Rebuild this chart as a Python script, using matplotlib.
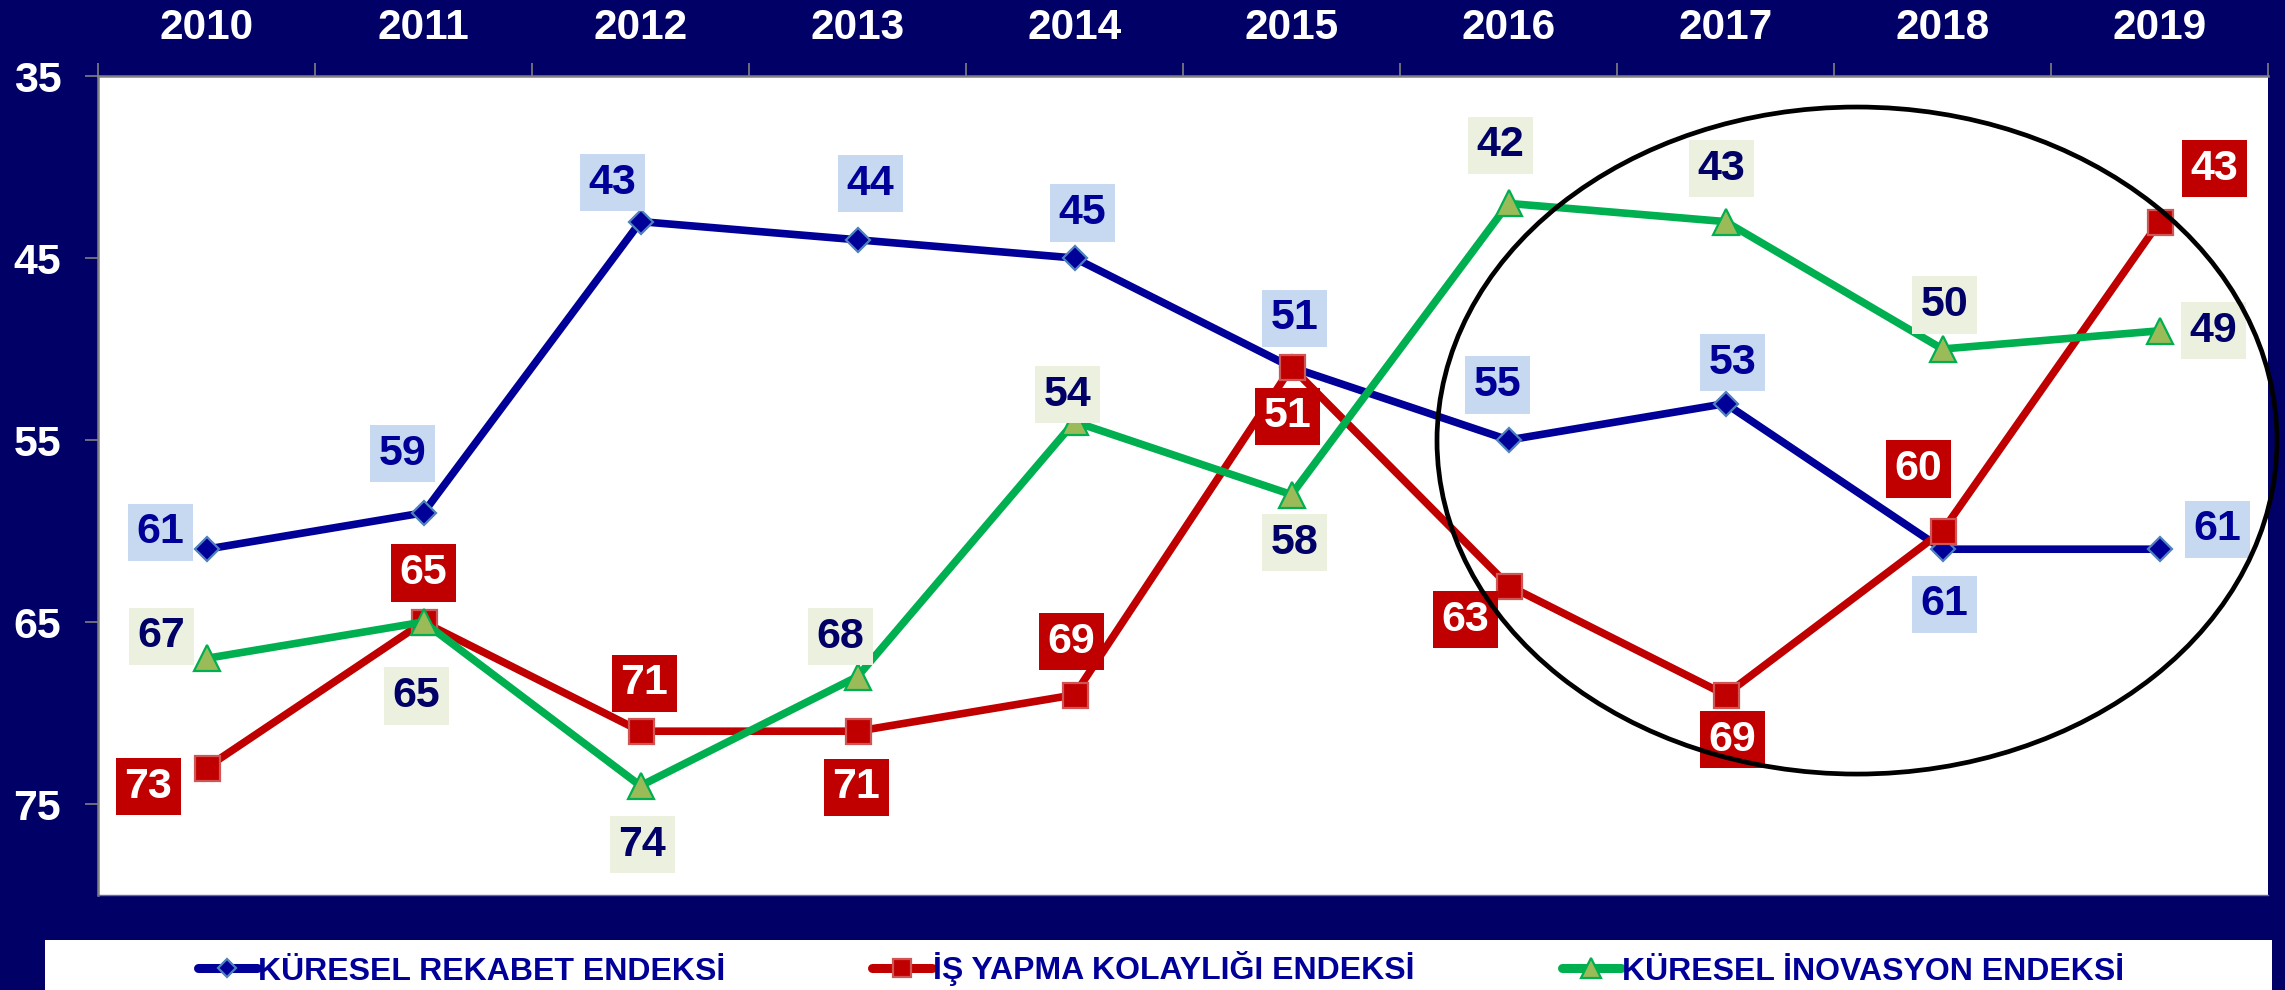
import numpy as np
import matplotlib
matplotlib.use("Agg")
import matplotlib.pyplot as plt
from matplotlib.patches import Ellipse, Rectangle
from matplotlib import font_manager

# ---------------- data ----------------
years = ["2010", "2011", "2012", "2013", "2014", "2015", "2016", "2017", "2018", "2019"]
rekabet = [61, 59, 43, 44, 45, 51, 55, 53, 61, 61]
is_yapma = [73, 65, 71, 71, 69, 51, 63, 69, 60, 43]
inovasyon = [67, 65, 74, 68, 54, 58, 42, 43, 50, 49]
series_names = ["KÜRESEL REKABET ENDEKSİ", "İŞ YAPMA KOLAYLIĞI ENDEKSİ", "KÜRESEL İNOVASYON ENDEKSİ"]
y_ticks = [35, 45, 55, 65, 75]

# label offsets (pixels, box centre relative to point)
off_rekabet = [(-46, 17), (-21, 59), (-28, 39), (13, 56), (8, 45), (3, 49), (-11, 55), (7, 41), (2, -55), (58, 20)]
off_is = [(-58, -19), (0, 49), (4, 48), (-1, -56), (-3, 53), (-4, -49), (-43, -34), (7, -45), (-24, 62), (55, 53)]
off_inov = [(-45, 22), (-7, -74), (2, -59), (-17, 40), (-7, 27), (3, -48), (-8, 58), (-4, 53), (2, 44), (54, 0)]

NAVY = "#000066"
BLUE = "#000099"
RED = "#C00000"
GREEN = "#00B050"

names = {f.name for f in font_manager.fontManager.ttflist}
FONT = "Liberation Sans" if "Liberation Sans" in names else "DejaVu Sans"

fig = plt.figure(figsize=(22.85, 9.90), dpi=100, facecolor=NAVY)
W, H = 2285.0, 990.0
ax = fig.add_axes([98 / W, 1 - 895 / H, (2268 - 98) / W, (895 - 76) / H])
ax.set_facecolor("white")

x = np.arange(len(years))

ax.plot(x, rekabet, color=BLUE, lw=5.5, marker="D", ms=12.5, mfc=BLUE, mec="#4F81BD", mew=1.6,
        zorder=3, label=series_names[0])
ax.plot(x, is_yapma, color=RED, lw=5.5, marker="s", ms=18, mfc=RED, mec="#D05555", mew=1.6,
        zorder=4, label=series_names[1])
ax.plot(x, inovasyon, color=GREEN, lw=5.5, marker="^", ms=19, mfc="#9BBB59", mec=GREEN, mew=1.6,
        zorder=5, label=series_names[2])

def labels(vals, offs, fc, tc):
    for i, (v, o) in enumerate(zip(vals, offs)):
        ax.annotate(str(v), xy=(i, v), xytext=o, textcoords="offset pixels",
                    ha="center", va="center", fontsize=31, fontweight="bold",
                    family=FONT, color=tc, zorder=10, annotation_clip=False,
                    bbox=dict(boxstyle="square,pad=0.2", fc=fc, ec="none"))

labels(rekabet, off_rekabet, "#C6D9F1", BLUE)
labels(is_yapma, off_is, RED, "white")
labels(inovasyon, off_inov, "#EBF1DE", NAVY)

ax.add_patch(Ellipse((7.606, 55.03), 3.871, 36.65, fill=False, ec="black", lw=3.4,
                     clip_on=False, zorder=20))

ax.set_xlim(-0.5, 9.5)
ax.set_ylim(80, 35)

ax.xaxis.tick_top()
ax.set_xticks(np.arange(-0.5, 10, 1))
ax.set_xticklabels([])
ax.set_xticks(x, minor=True)
ax.set_xticklabels(years, minor=True)
ax.tick_params(axis="x", which="major", length=9.4, width=1.2, color="#808080", direction="out")
ax.tick_params(axis="x", which="minor", length=0, pad=20, labelsize=30.5, labelcolor="white")
for t in ax.get_xticklabels(minor=True):
    t.set_fontweight("bold")
    t.set_family(FONT)

ax.set_yticks(y_ticks)
ax.set_yticklabels([str(v) for v in y_ticks])
ax.tick_params(axis="y", length=9.4, width=1.2, color="#808080", direction="out", pad=17,
               labelsize=31, labelcolor="white")
for t in ax.get_yticklabels():
    t.set_fontweight("bold")
    t.set_family(FONT)

ax.spines["left"].set_color("#808080")
ax.spines["left"].set_linewidth(1.8)
ax.spines["top"].set_color("#808080")
ax.spines["top"].set_linewidth(1.8)
ax.spines["bottom"].set_color("#6A6AA0")
ax.spines["bottom"].set_linewidth(1.0)
ax.spines["right"].set_visible(False)

# legend box
fig.patches.append(Rectangle((45 / W, 0), (2272 - 45) / W, (990 - 940) / H,
                             transform=fig.transFigure, fc="white", ec="none", zorder=0))
handles, labs = ax.get_legend_handles_labels()
leg = fig.legend(handles, labs, loc="center", bbox_to_anchor=(1161 / W, 1 - 969 / H), ncol=3,
                 frameon=False, prop=dict(family=FONT, weight="bold", size=23),
                 handlelength=1.85, handletextpad=0.05, columnspacing=4.6, markerscale=0.75,
                 borderaxespad=0, borderpad=0)
for t in leg.get_texts():
    t.set_color(BLUE)
for h in leg.legend_handles:
    h.set_linewidth(6.5)
    h.set_solid_capstyle("round")

fig.savefig("out.png", dpi=100, facecolor=NAVY)
